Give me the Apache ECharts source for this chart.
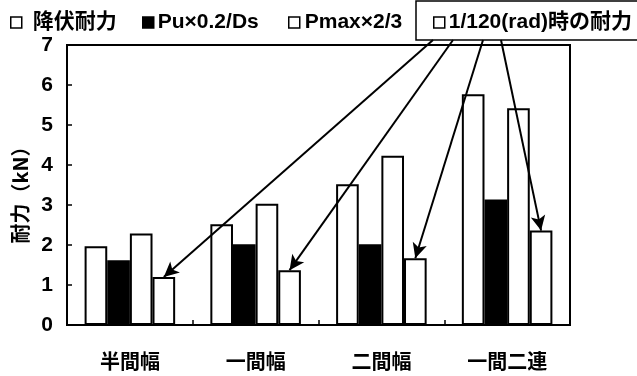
<!DOCTYPE html>
<html>
<head>
<meta charset="utf-8">
<script src="https://cdn.jsdelivr.net/npm/echarts@6/dist/echarts.min.js"></script>
<style>
  html, body { margin: 0; padding: 0; background: #fff; }
  #chart { width: 637px; height: 376px; }
</style>
</head>
<body>
<div id="chart"></div>
<script>
// Categories (wall specimen widths)
const categories = ['半間幅', '一間幅', '二間幅', '一間二連'];
// Series names
const seriesNames = ['降伏耐力', 'Pu×0.2/Ds', 'Pmax×2/3', '1/120(rad)時の耐力'];
// Strength values (kN)
const yieldStrength = [1.97, 2.52, 3.52, 5.77];
const puDs = [1.62, 2.02, 2.02, 3.14];
const pmax23 = [2.29, 3.03, 4.23, 5.42];
const rad120 = [1.20, 1.37, 1.67, 2.36];
// Y axis ticks
const yTicks = { min: 0, max: 7, interval: 1 };

// Legend entry placement: left edge of each icon and extra icon-to-text spacing (pixels)
const legendLeft = [10, 142, 288, 433];
const legendTextPad = [6, -1, 0, -1];
// Starting points of the arrows under the boxed legend entry (pixels)
const arrowStarts = [[433, 40], [453, 40], [483, 40], [501, 40]];

const jpFont = '"Noto Sans CJK JP", "Noto Sans", sans-serif';
const mixFont = '"Liberation Sans", "Noto Sans CJK JP", sans-serif';
const numFont = '"Liberation Sans Narrow", "Liberation Sans", Arial, sans-serif';

const whiteBar = { color: '#ffffff', borderColor: '#000000', borderWidth: 2 };
const blackBar = { color: '#000000', borderColor: '#000000', borderWidth: 2 };

const chart = echarts.init(document.getElementById('chart'), null, { renderer: 'canvas' });

function barSeries(name, values, style) {
  return {
    name: name,
    type: 'bar',
    data: values,
    barGap: '0%',
    barCategoryGap: '28%',
    itemStyle: style,
    emphasis: { disabled: true },
    animation: false
  };
}

const arrowSeries = barSeries(seriesNames[3], rad120, whiteBar);
arrowSeries.markLine = {
  silent: true,
  animation: false,
  symbol: ['none', 'arrow'],
  symbolSize: [11, 15],
  label: { show: false },
  lineStyle: { color: '#000000', width: 2, type: 'solid' },
  emphasis: { disabled: true },
  data: categories.map((c, i) => [
    { x: arrowStarts[i][0], y: arrowStarts[i][1] },
    { coord: [c, rad120[i]] }
  ])
};

// One legend component per entry so each can sit at its own spot
const legends = seriesNames.map((name, i) => ({
  top: 11,
  left: legendLeft[i],
  padding: 0,
  itemWidth: 11,
  itemHeight: 11,
  icon: 'rect',
  selectedMode: false,
  textStyle: {
    fontFamily: mixFont, fontWeight: 'bold', fontSize: 21, lineHeight: 23,
    color: '#000', padding: [0, 0, 0, legendTextPad[i]]
  },
  data: [{
    name: name,
    itemStyle: { color: i === 1 ? '#000' : '#fff', borderColor: '#000', borderWidth: 1.5 }
  }]
}));

chart.setOption({
  backgroundColor: '#ffffff',
  animation: false,
  grid: {
    left: 67, right: 67, top: 45, bottom: 51,
    show: true, borderColor: '#000000', borderWidth: 2,
    containLabel: false
  },
  legend: legends,
  graphic: [{
    type: 'rect',
    shape: { x: 416, y: 1, width: 240, height: 39 },
    style: { fill: 'none', stroke: '#000', lineWidth: 1.5 },
    silent: true
  }],
  xAxis: {
    type: 'category',
    data: categories,
    axisLine: { show: true, lineStyle: { color: '#000', width: 2 } },
    axisTick: { show: true, inside: true, length: 5, lineStyle: { color: '#000', width: 1.5 } },
    axisLabel: { fontFamily: jpFont, fontWeight: 'bold', fontSize: 20, color: '#000', margin: 26 },
    splitLine: { show: false }
  },
  yAxis: {
    type: 'value',
    min: yTicks.min, max: yTicks.max, interval: yTicks.interval,
    name: '耐力（kN）',
    nameLocation: 'middle',
    nameRotate: 90,
    nameGap: 34,
    nameTextStyle: {
      fontFamily: jpFont, fontWeight: 'bold', fontSize: 20, color: '#000',
      padding: [0, 10, 0, 0]
    },
    axisLine: { show: true, lineStyle: { color: '#000', width: 2 } },
    axisTick: { show: true, inside: true, length: 5, lineStyle: { color: '#000', width: 1.5 } },
    axisLabel: { fontFamily: numFont, fontWeight: 'bold', fontSize: 21, color: '#000', margin: 14 },
    splitLine: { show: false }
  },
  series: [
    barSeries(seriesNames[0], yieldStrength, whiteBar),
    barSeries(seriesNames[1], puDs, blackBar),
    barSeries(seriesNames[2], pmax23, whiteBar),
    arrowSeries
  ]
});
</script>
</body>
</html>
